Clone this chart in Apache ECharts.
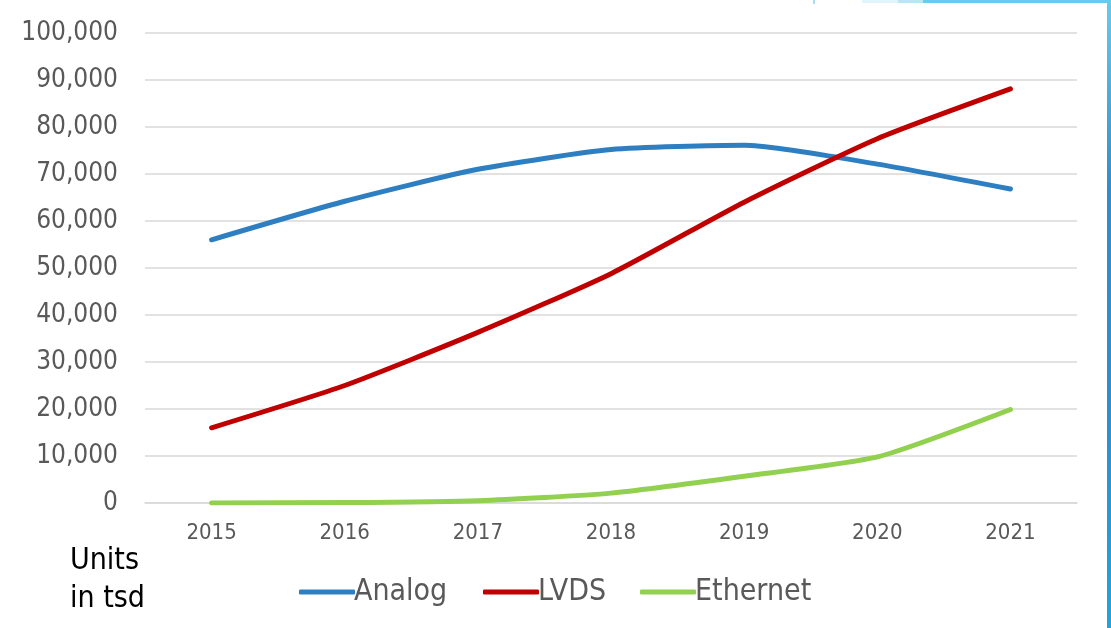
<!DOCTYPE html>
<html><head><meta charset="utf-8">
<script src="https://cdn.jsdelivr.net/npm/echarts@6/dist/echarts.min.js"></script>
<style>html,body{margin:0;padding:0;background:#fff}#c{width:1111px;height:628px}</style>
</head><body><div id="c"></div>
<script>
const categories = ['2015','2016','2017','2018','2019','2020','2021'];
const analog   = [56000, 64200, 71000, 75200, 76100, 72100, 66800];
const lvds     = [16000, 25000, 36300, 48800, 64000, 77500, 88100];
const ethernet = [0, 100, 500, 2100, 5700, 9800, 19900];
const yTicks = {min: 0, max: 100000, interval: 10000};

const FONT = '"DejaVu Sans Condensed", "Liberation Sans", sans-serif';
const chart = echarts.init(document.getElementById('c'));
const mk = (name, data, color) => ({
  name, type: 'line', data, smooth: 0.2, symbol: 'none',
  lineStyle: {width: 5, color, cap: 'round', join: 'round'},
  itemStyle: {color}
});
const lg = (name, left) => ({
  left, top: 572, itemWidth: 56, itemHeight: 5, icon: 'roundRect',
  textStyle: {color: '#595959', fontSize: 30, fontFamily: FONT, padding: [0,0,0,-6]},
  data: [name]
});
chart.setOption({
  animation: false,
  textStyle: {fontFamily: FONT},
  grid: {left: 145, right: 34, top: 33, bottom: 125},
  xAxis: {
    type: 'category', data: categories, boundaryGap: true,
    axisLine: {lineStyle: {color: '#d9d9d9', width: 1.5}},
    axisTick: {show: false},
    axisLabel: {color: '#595959', fontSize: 22, margin: 19, fontFamily: FONT}
  },
  yAxis: {
    type: 'value', min: yTicks.min, max: yTicks.max, interval: yTicks.interval,
    axisLine: {show: false}, axisTick: {show: false},
    splitLine: {lineStyle: {color: '#d9d9d9', width: 1.5}},
    axisLabel: {color: '#595959', fontSize: 26, margin: 27, fontFamily: FONT,
      formatter: v => v.toLocaleString('en-US')}
  },
  legend: [lg('Analog', 294), lg('LVDS', 478), lg('Ethernet', 635)],
  graphic: [
    {type: 'text', left: 70, top: 542, style: {text: 'Units\nin tsd', fill: '#000', fontSize: 30, lineHeight: 38, fontFamily: FONT}},
    {type: 'rect', shape: {x: 923, y: 0, width: 188, height: 3}, style: {fill: '#66ccee'}},
    {type: 'rect', shape: {x: 898, y: 0, width: 25, height: 3}, style: {fill: '#b8e6f6'}},
    {type: 'rect', shape: {x: 862, y: 0, width: 36, height: 3}, style: {fill: '#e2f4fb'}},
    {type: 'rect', shape: {x: 813, y: 0, width: 2, height: 4}, style: {fill: '#a8dcf0'}},
    {type: 'rect', shape: {x: 1107, y: 0, width: 4, height: 628}, style: {fill: {type:'linear', x:0,y:0,x2:0,y2:1, colorStops:[{offset:0,color:'#66ccee'},{offset:0.3,color:'#2f8fcc'},{offset:0.6,color:'#2b8fd0'},{offset:1,color:'#1ea6dc'}]}}}
  ],
  series: [mk('Analog', analog, '#2e7fc1'), mk('LVDS', lvds, '#c00000'), mk('Ethernet', ethernet, '#92d050')]
});
</script></body></html>
